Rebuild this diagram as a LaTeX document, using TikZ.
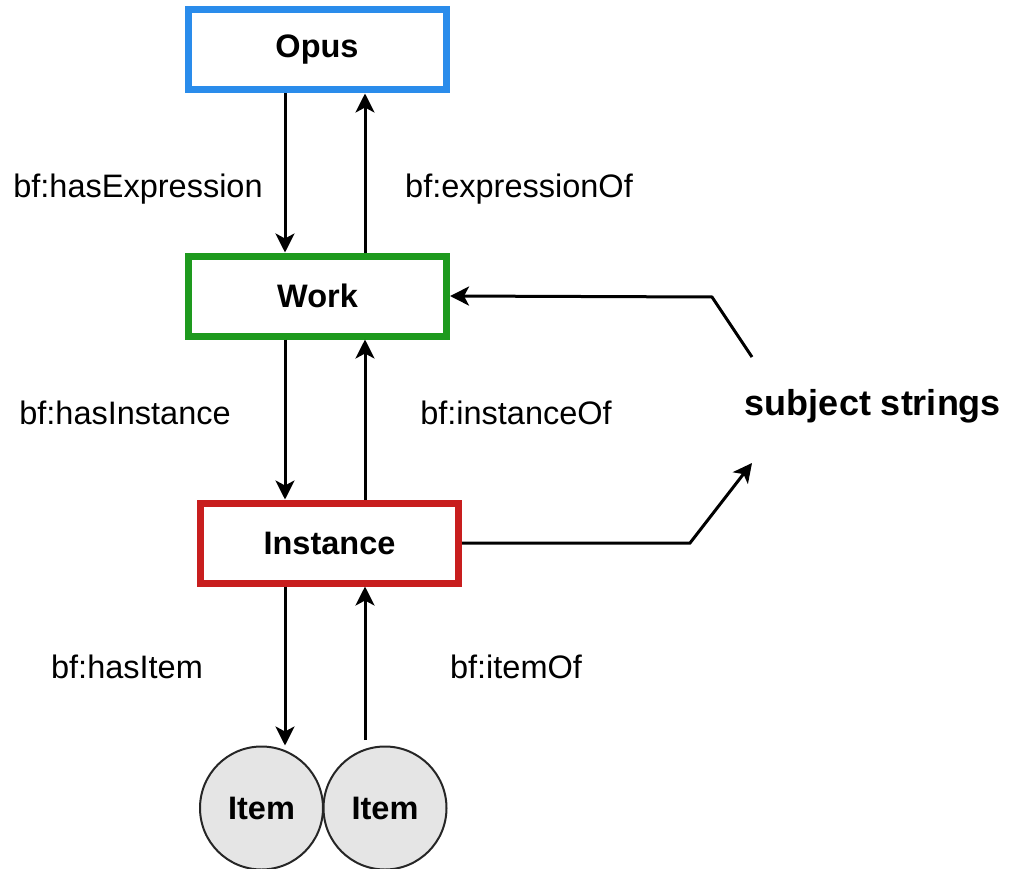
\documentclass[tikz,border=0pt]{standalone}
\usepackage{fontspec}
\setmainfont{Liberation Sans}
\usetikzlibrary{arrows.meta}

\definecolor{opusblue}{HTML}{2A8CEB}
\definecolor{workgreen}{HTML}{1E9A1E}
\definecolor{instred}{HTML}{C81E1E}

\begin{document}
\begin{tikzpicture}[x=1pt, y=-1pt,
    box/.style={draw, line width=7pt, fill=white, minimum width=258pt, minimum height=80pt,
        inner sep=0pt, font=\fontsize{32.5}{38}\selectfont\bfseries},
    itemnode/.style={circle, draw=black!85, line width=2pt, fill=black!10, minimum size=123pt,
        inner sep=0pt, font=\fontsize{32.5}{38}\selectfont\bfseries},
    rel/.style={font=\fontsize{32.5}{38}\selectfont},
    link/.style={line width=3pt, -{Stealth[length=19pt, width=19pt, inset=5pt]}}]

    \useasboundingbox (0,0) rectangle (1009,869);

    % x of the two arrow columns
    \def\xl{285}
    \def\xr{365}
    \coordinate (xl) at (\xl, 0);
    \coordinate (xr) at (\xr, 0);

    % Boxes
    \node[box, draw=opusblue]  (opus) at (317, 50)    {Opus};
    \node[box, draw=workgreen] (work) at (317.5, 296) {Work};
    \node[box, draw=instred]   (inst) at (329.5, 543) {Instance};

    % Items
    \node[itemnode] (it1) at (261.5, 808) {Item};
    \node[itemnode] (it2) at (385, 808)   {Item};

    % Subject strings
    \node[font=\fontsize{36}{42}\selectfont\bfseries] (subj) at (873, 406) {subject strings};
    \coordinate (subjtop) at (752, 357);
    \coordinate (subjbot) at (752, 463);
    \coordinate (bendtop) at (712, 297);
    \coordinate (bendbot) at (690, 543);
    \coordinate (itup) at (\xr, 740);

    % Labels
    \node[rel] (hasexp)  at (138, 189) {bf:hasExpression};
    \node[rel] (expof)   at (519, 189) {bf:expressionOf};
    \node[rel] (hasinst) at (125, 413) {bf:hasInstance};
    \node[rel] (instof)  at (516, 413) {bf:instanceOf};
    \node[rel] (hasitem) at (127, 667) {bf:hasItem};
    \node[rel] (itemof)  at (516, 667) {bf:itemOf};

    % Vertical links
    \draw[link] (opus.south -| xl) -- (work.north -| xl);
    \draw[link] (work.north -| xr) -- (opus.south -| xr);
    \draw[link] (work.south -| xl) -- (inst.north -| xl);
    \draw[link] (inst.north -| xr) -- (work.south -| xr);
    \draw[link] (inst.south -| xl) -- (xl |- it1.north);
    \draw[link] (itup) -- (inst.south -| xr);

    % Subject strings links
    \draw[link] (subjtop) -- (bendtop) -- (work.east);
    \draw[link] (inst.east) -- (bendbot) -- (subjbot);

\end{tikzpicture}
\end{document}
